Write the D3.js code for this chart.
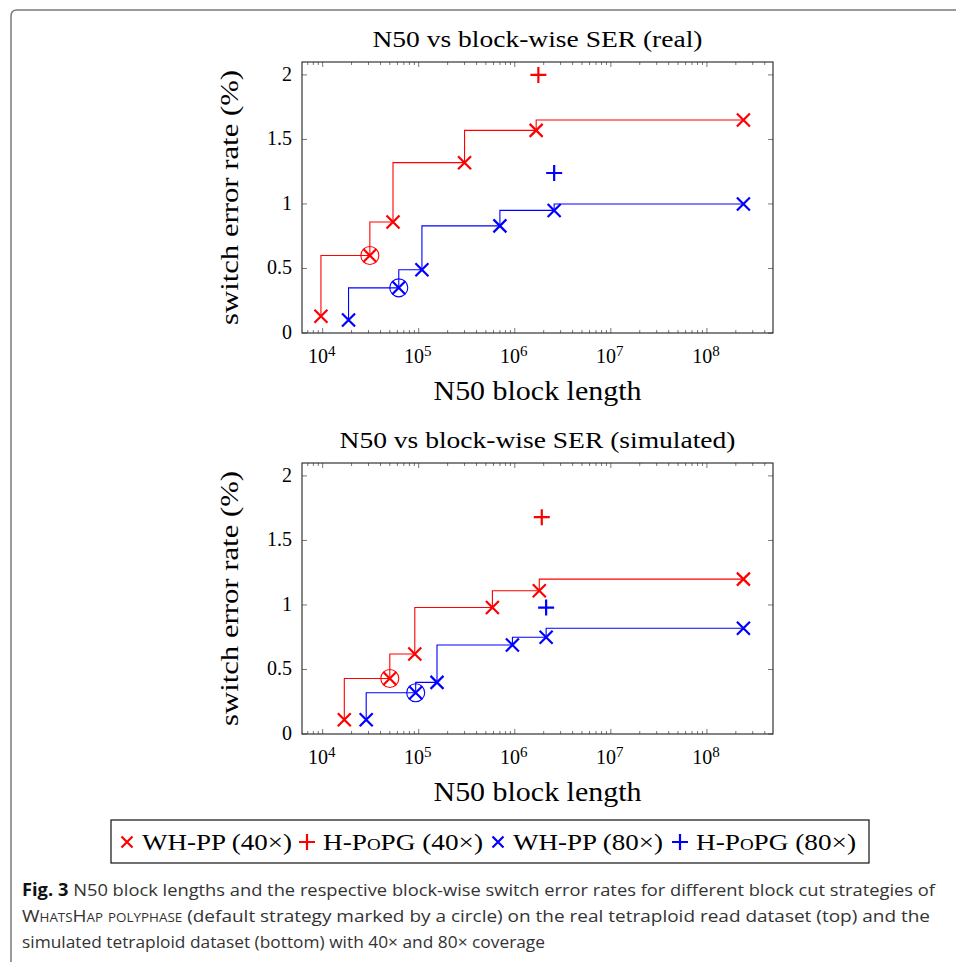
<!DOCTYPE html>
<html>
<head>
<meta charset="utf-8">
<script src="https://cdn.jsdelivr.net/npm/d3@7"></script>
<style>
  body { margin: 0; background: #fff; }
  svg { display: block; }
  .serif { font-family: "Liberation Serif", "DejaVu Serif", serif; }
</style>
</head>
<body>
<div id="chart"></div>
<script>
var width = 956;
var height = 962;

// real dataset (top)
var realWh40N50 = [9600, 31000, 54000, 300000, 1670000, 240000000];
var realWh40Ser = [0.13, 0.60, 0.86, 1.32, 1.57, 1.65];
var realWh80N50 = [18600, 62000, 108000, 700000, 2570000, 240000000];
var realWh80Ser = [0.10, 0.35, 0.49, 0.83, 0.95, 1.00];
var realPopg40 = [{x: 1760000, y: 2.00}];
var realPopg80 = [{x: 2570000, y: 1.24}];

// simulated dataset (bottom)
var simWh40N50 = [16800, 50000, 91000, 585000, 1800000, 240000000];
var simWh40Ser = [0.11, 0.43, 0.62, 0.98, 1.11, 1.20];
var simWh80N50 = [28400, 93000, 155000, 945000, 2120000, 240000000];
var simWh80Ser = [0.11, 0.32, 0.40, 0.69, 0.75, 0.82];
var simPopg40 = [{x: 1910000, y: 1.68}];
var simPopg80 = [{x: 2120000, y: 0.98}];

var defaultIdx = 1; // default strategy (circled)

var yTicks = [0, 0.5, 1, 1.5, 2];
var xTicks = [1e4, 1e5, 1e6, 1e7, 1e8];

var legendItems = [
    {label: "WH-PP (40×)", color: "red", mark: "x"},
    {label: "H-PoPG (40×)", color: "red", mark: "+"},
    {label: "WH-PP (80×)", color: "blue", mark: "x"},
    {label: "H-PoPG (80×)", color: "blue", mark: "+"}
];

function zip(xs, ys) {
    return xs.map(function (x, i) { return {x: x, y: ys[i]}; });
}

var svg = d3.select("#chart")
    .append("svg")
    .attr("width", width)
    .attr("height", height);

// figure frame (rounded corner top-left)
svg.append("path")
    .attr("d", "M11,962 V16 Q11,10 17,10 H956")
    .attr("fill", "none")
    .attr("stroke", "#7a7a7a")
    .attr("stroke-width", 1.5);

var plotLeft = 302, plotRight = 773;

function drawPanel(top, title, titleLen, wh40, wh80, popg40, popg80) {
    var bottom = top + 271;
    var x = d3.scaleLog().domain([Math.pow(10, 3.785), Math.pow(10, 8.688)]).range([plotLeft, plotRight]);
    var y = d3.scaleLinear().domain([0, 2.1]).range([bottom, top]);

    var g = svg.append("g");

    // minor x ticks
    var minor = [];
    for (var e = 3; e <= 8; e++) {
        for (var m = 2; m <= 9; m++) {
            var v = m * Math.pow(10, e);
            if (v > x.domain()[0] && v < x.domain()[1]) minor.push(v);
        }
    }
    var tickCol = "#555";
    minor.forEach(function (v) {
        g.append("line").attr("x1", x(v)).attr("x2", x(v)).attr("y1", bottom).attr("y2", bottom - 3)
            .attr("stroke", tickCol).attr("stroke-width", 0.8);
        g.append("line").attr("x1", x(v)).attr("x2", x(v)).attr("y1", top).attr("y2", top + 3)
            .attr("stroke", tickCol).attr("stroke-width", 0.8);
    });
    xTicks.forEach(function (v) {
        g.append("line").attr("x1", x(v)).attr("x2", x(v)).attr("y1", bottom).attr("y2", bottom - 5)
            .attr("stroke", tickCol).attr("stroke-width", 0.8);
        g.append("line").attr("x1", x(v)).attr("x2", x(v)).attr("y1", top).attr("y2", top + 5)
            .attr("stroke", tickCol).attr("stroke-width", 0.8);
        var t = g.append("text").attr("class", "serif")
            .attr("x", x(v) - 1).attr("y", bottom + 30)
            .attr("text-anchor", "middle")
            .attr("font-size", 20);
        t.append("tspan").text("10");
        t.append("tspan").attr("dy", -7).attr("font-size", 15).text(Math.round(Math.log10(v)));
    });
    yTicks.forEach(function (v) {
        g.append("line").attr("x1", plotLeft).attr("x2", plotLeft + 5).attr("y1", y(v)).attr("y2", y(v))
            .attr("stroke", tickCol).attr("stroke-width", 0.8);
        g.append("line").attr("x1", plotRight).attr("x2", plotRight - 5).attr("y1", y(v)).attr("y2", y(v))
            .attr("stroke", tickCol).attr("stroke-width", 0.8);
        g.append("text").attr("class", "serif")
            .attr("x", plotLeft - 10).attr("y", y(v) + 6)
            .attr("text-anchor", "end")
            .attr("font-size", 20)
            .text(v);
    });

    // frame
    g.append("rect")
        .attr("x", plotLeft).attr("y", top)
        .attr("width", plotRight - plotLeft).attr("height", bottom - top)
        .attr("fill", "none").attr("stroke", "#222").attr("stroke-width", 1.1);

    // titles and labels
    g.append("text").attr("class", "serif")
        .attr("x", (plotLeft + plotRight) / 2).attr("y", top - 15)
        .attr("text-anchor", "middle").attr("font-size", 24)
        .attr("textLength", titleLen).attr("lengthAdjust", "spacingAndGlyphs")
        .text(title);
    g.append("text").attr("class", "serif")
        .attr("x", (plotLeft + plotRight) / 2).attr("y", bottom + 67)
        .attr("text-anchor", "middle").attr("font-size", 27)
        .attr("textLength", 208).attr("lengthAdjust", "spacingAndGlyphs")
        .text("N50 block length");
    g.append("text").attr("class", "serif")
        .attr("transform", "translate(238," + ((top + bottom) / 2) + ") rotate(-90)")
        .attr("text-anchor", "middle").attr("font-size", 26)
        .attr("textLength", 255).attr("lengthAdjust", "spacingAndGlyphs")
        .text("switch error rate (%)");

    var line = d3.line()
        .x(function (d) { return x(d.x); })
        .y(function (d) { return y(d.y); })
        .curve(d3.curveStepBefore);

    [[wh40, "red"], [wh80, "blue"]].forEach(function (s) {
        g.append("path")
            .attr("d", line(s[0]))
            .attr("fill", "none")
            .attr("stroke", s[1])
            .attr("stroke-width", 1.1);
        s[0].forEach(function (d) {
            drawMark(g, x(d.x), y(d.y), "x", s[1], 6.5);
        });
        var dd = s[0][defaultIdx];
        g.append("circle")
            .attr("cx", x(dd.x)).attr("cy", y(dd.y)).attr("r", 9)
            .attr("fill", "none").attr("stroke", s[1]).attr("stroke-width", 1.1);
    });
    [[popg40, "red"], [popg80, "blue"]].forEach(function (s) {
        s[0].forEach(function (d) {
            drawMark(g, x(d.x), y(d.y), "+", s[1], 8);
        });
    });
}

function drawMark(g, cx, cy, kind, color, r) {
    var d;
    if (kind === "x") {
        d = "M" + (cx - r) + "," + (cy - r) + "L" + (cx + r) + "," + (cy + r) +
            "M" + (cx - r) + "," + (cy + r) + "L" + (cx + r) + "," + (cy - r);
    } else {
        d = "M" + (cx - r) + "," + cy + "L" + (cx + r) + "," + cy +
            "M" + cx + "," + (cy - r) + "L" + cx + "," + (cy + r);
    }
    g.append("path").attr("d", d).attr("stroke", color).attr("stroke-width", 2.2).attr("fill", "none");
}

drawPanel(62, "N50 vs block-wise SER (real)", 330,
    zip(realWh40N50, realWh40Ser), zip(realWh80N50, realWh80Ser), realPopg40, realPopg80);
drawPanel(463, "N50 vs block-wise SER (simulated)", 396,
    zip(simWh40N50, simWh40Ser), zip(simWh80N50, simWh80Ser), simPopg40, simPopg80);

// legend
var legend = svg.append("g");
legend.append("rect")
    .attr("x", 111).attr("y", 820).attr("width", 758).attr("height", 43)
    .attr("fill", "none").attr("stroke", "#111").attr("stroke-width", 1.2);
var markX = [127, 307, 498, 680];
var textX = [142, 323, 513, 696];
var textLen = [150, 160, 150, 160];
legendItems.forEach(function (it, i) {
    drawMark(legend, markX[i], 842, it.mark, it.color, it.mark === "x" ? 5.5 : 8);
    var t = legend.append("text").attr("class", "serif")
        .attr("x", textX[i]).attr("y", 850)
        .attr("font-size", 23)
        .attr("textLength", textLen[i]).attr("lengthAdjust", "spacingAndGlyphs");
    if (it.mark === "+") {
        var parts = it.label.split(" ");
        t.append("tspan").style("font-variant", "small-caps").text(parts[0]);
        t.append("tspan").text(" " + parts[1]);
    } else {
        t.text(it.label);
    }
});

// caption
var cap = svg.append("g")
    .attr("font-family", "'Open Sans', 'Noto Sans', sans-serif")
    .attr("font-size", 17)
    .attr("fill", "#333");
var c1 = cap.append("text").attr("x", 22).attr("y", 896)
    .attr("textLength", 913).attr("lengthAdjust", "spacingAndGlyphs");
c1.append("tspan").attr("font-weight", "bold").attr("fill", "#111").text("Fig. 3");
c1.append("tspan").text("  N50 block lengths and the respective block-wise switch error rates for different block cut strategies of");
var c2 = cap.append("text").attr("x", 22).attr("y", 922)
    .attr("textLength", 908).attr("lengthAdjust", "spacingAndGlyphs");
c2.append("tspan").style("font-variant", "small-caps").text("WhatsHap polyphase");
c2.append("tspan").text(" (default strategy marked by a circle) on the real tetraploid read dataset (top) and the");
cap.append("text").attr("x", 22).attr("y", 948)
    .attr("textLength", 523).attr("lengthAdjust", "spacingAndGlyphs")
    .text("simulated tetraploid dataset (bottom) with 40× and 80× coverage");
</script>
</body>
</html>
